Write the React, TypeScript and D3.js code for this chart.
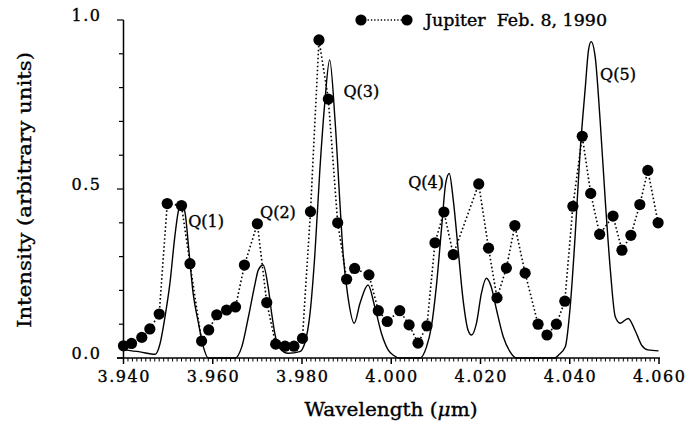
import React from 'react'
import * as d3 from 'd3'

// observed Jupiter spectrum (dots joined by dotted line)
const obsWave = [
  3.94, 3.9418, 3.9441, 3.9459, 3.948, 3.9498, 3.953, 3.9549, 3.9575, 3.9591,
  3.9609, 3.9631, 3.9651, 3.9671, 3.97, 3.9721, 3.9741, 3.9762, 3.9782, 3.9801,
  3.9819, 3.9838, 3.9859, 3.988, 3.99, 3.9918, 3.995, 3.9971, 3.9991, 4.0019,
  4.004, 4.006, 4.008, 4.0098, 4.0118, 4.0139, 4.0196, 4.0218, 4.0237, 4.0258,
  4.0277, 4.03, 4.0329, 4.0349, 4.037, 4.0389, 4.0407, 4.0428, 4.0447, 4.0467,
  4.0497, 4.0517, 4.0537, 4.0557, 4.0575, 4.0598,
]
const obsIntensity = [
  0.036, 0.043, 0.061, 0.086, 0.13, 0.457, 0.451, 0.279, 0.05, 0.083,
  0.128, 0.142, 0.151, 0.275, 0.397, 0.164, 0.041, 0.035, 0.035, 0.058,
  0.433, 0.941, 0.766, 0.4, 0.233, 0.265, 0.246, 0.14, 0.108, 0.14,
  0.098, 0.044, 0.095, 0.341, 0.432, 0.306, 0.515, 0.325, 0.178, 0.266,
  0.392, 0.251, 0.1, 0.068, 0.1, 0.168, 0.449, 0.656, 0.487, 0.366,
  0.42, 0.319, 0.363, 0.454, 0.555, 0.4,
]

// model spectrum (solid line)
const modelWave = [
  3.94, 3.9437, 3.9471, 3.9482, 3.9493, 3.9504, 3.9515, 3.9522, 3.953, 3.9538,
  3.9547, 3.9556, 3.9568, 3.9579, 3.959, 3.965, 3.9665, 3.968, 3.9695, 3.9702,
  3.9713, 3.9724, 3.9732, 3.9739, 3.975, 3.9769, 3.9795, 3.9806, 3.9818, 3.9829,
  3.984, 3.9851, 3.9862, 3.9874, 3.9885, 3.9892, 3.9903, 3.9917, 3.993, 3.9948,
  3.9963, 3.9978, 3.9993, 4.0004, 4.0019, 4.0064, 4.0079, 4.009, 4.0101, 4.0113,
  4.0122, 4.013, 4.0139, 4.015, 4.0161, 4.0172, 4.018, 4.0191, 4.0202, 4.0213,
  4.0224, 4.0236, 4.0251, 4.0266, 4.0281, 4.0367, 4.0375, 4.039, 4.0401, 4.0412,
  4.0423, 4.0435, 4.0442, 4.0448, 4.0457, 4.0468, 4.048, 4.0491, 4.0502, 4.0513,
  4.0531, 4.0546, 4.0561, 4.0575, 4.0599,
]
const modelIntensity = [
  0.024, 0.018, 0.011, 0.043, 0.122, 0.221, 0.359, 0.428, 0.458, 0.429,
  0.311, 0.192, 0.103, 0.033, 0.0, 0.0, 0.033, 0.122, 0.221, 0.26,
  0.275, 0.211, 0.132, 0.073, 0.029, 0.014, 0.019, 0.043, 0.132, 0.31,
  0.556, 0.754, 0.882, 0.704, 0.458, 0.31, 0.181, 0.103, 0.162, 0.216,
  0.152, 0.073, 0.024, 0.009, 0.0, 0.0, 0.033, 0.093, 0.211, 0.388,
  0.517, 0.546, 0.467, 0.32, 0.172, 0.083, 0.068, 0.103, 0.191, 0.236,
  0.211, 0.142, 0.063, 0.019, 0.0, 0.0, 0.009, 0.033, 0.152, 0.359,
  0.606, 0.803, 0.911, 0.936, 0.891, 0.704, 0.458, 0.26, 0.122, 0.103,
  0.117, 0.083, 0.038, 0.024, 0.021,
]

// line labels
const lineNames = ['Q(1)', 'Q(2)', 'Q(3)', 'Q(4)', 'Q(5)']
const lineWave = [3.9545, 3.9706, 3.9893, 4.0038, 4.0468]
const lineLevel = [0.388, 0.415, 0.772, 0.503, 0.822]

const xTicks = [3.94, 3.96, 3.98, 4.0, 4.02, 4.04, 4.06]
const yTicks = [0.0, 0.5, 1.0]
const legendLabel = 'Jupiter  Feb. 8, 1990'

const W = 697
const H = 425
const font = '"DejaVu Serif", serif'

export default function App() {
  const x = d3.scaleLinear().domain([3.94, 4.06]).range([123.5, 659])
  const y = d3.scaleLinear().domain([0, 1]).range([358, 20])

  const obs = obsWave.map((w, i) => [w, obsIntensity[i]] as [number, number])
  const model = modelWave.map((w, i) => [w, modelIntensity[i]] as [number, number])

  const obsLine = d3
    .line<[number, number]>()
    .x((d) => x(d[0]))
    .y((d) => y(d[1]))
  const modelLine = d3
    .line<[number, number]>()
    .x((d) => x(d[0]))
    .y((d) => y(d[1]))
    .curve(d3.curveMonotoneX)

  const xMinor = d3.range(0, 121).map((i) => 3.94 + i * 0.001)
  const yMinor = d3.range(0, 11).map((i) => i * 0.1)

  // slightly heavier text, like the scanned original
  const heavy = { stroke: '#000', strokeWidth: 0.35 }

  return (
    <div style={{ position: 'absolute', left: 0, top: 0 }}>
      <svg width={W} height={H} style={{ display: 'block', background: '#fff' }}>
        {/* axes */}
        <g stroke="#000" strokeWidth={1.5} fill="none">
          <line x1={117} x2={x(4.06) + 1} y1={y(0)} y2={y(0)} />
          <line x1={x(3.94)} x2={x(3.94)} y1={y(1)} y2={y(0)} />
          {xMinor.map((t, i) => (
            <line
              key={'xm' + i}
              x1={x(t)}
              x2={x(t)}
              y1={y(0)}
              y2={y(0) + (i % 20 === 0 ? 6 : 3.5)}
              strokeWidth={i % 20 === 0 ? 1.5 : 1}
            />
          ))}
          {yMinor.map((t, i) => (
            <line
              key={'ym' + i}
              x1={x(3.94) - (i % 5 === 0 ? 6.5 : 4.5)}
              x2={x(3.94)}
              y1={y(t)}
              y2={y(t)}
              strokeWidth={1.2}
            />
          ))}
        </g>
        <g fontFamily={font} fontSize={16} fill="#000" {...heavy}>
          {xTicks.map((t) => (
            <text key={'xt' + t} x={x(t) + 0.75} y={382} textAnchor="middle" letterSpacing={1.5}>
              {t.toFixed(3)}
            </text>
          ))}
          {yTicks.map((t) => (
            <text key={'yt' + t} x={101.5} y={y(t) + 0.5} textAnchor="end" letterSpacing={1.5}>
              {t.toFixed(1)}
            </text>
          ))}
        </g>
        <text
          x={391}
          y={416}
          textAnchor="middle"
          fontFamily={font}
          fontSize={19}
          textLength={173}
          lengthAdjust="spacingAndGlyphs"
          {...heavy}
        >
          Wavelength (<tspan fontStyle="italic">μ</tspan>m)
        </text>
        <text
          transform="translate(31,190) rotate(-90)"
          textAnchor="middle"
          fontFamily={font}
          fontSize={19}
          textLength={276}
          lengthAdjust="spacingAndGlyphs"
          {...heavy}
        >
          Intensity (arbitrary units)
        </text>

        {/* model */}
        <path d={modelLine(model) || ''} fill="none" stroke="#000" strokeWidth={1.4} />

        {/* observed */}
        <path
          d={obsLine(obs) || ''}
          fill="none"
          stroke="#000"
          strokeWidth={1.6}
          strokeDasharray="1.6 2.4"
        />
        {obs.map((d, i) => (
          <circle key={'p' + i} cx={x(d[0])} cy={y(d[1])} r={5.6} fill="#000" />
        ))}

        {/* line labels */}
        <g fontFamily={font} fontSize={16} fill="#000" {...heavy}>
          {lineNames.map((n, i) => (
            <text key={n} x={x(lineWave[i])} y={y(lineLevel[i])}>
              {n}
            </text>
          ))}
        </g>

        {/* legend */}
        <g>
          <line x1={361} x2={407} y1={20} y2={20} stroke="#000" strokeWidth={1.3} strokeDasharray="1.3 2" />
          <circle cx={361} cy={20} r={5.6} fill="#000" />
          <circle cx={407} cy={20} r={5.6} fill="#000" />
          <text
            x={425}
            y={25.5}
            fontFamily={font}
            fontSize={16}
            textLength={182}
            lengthAdjust="spacingAndGlyphs"
            style={{ whiteSpace: 'pre' }}
            {...heavy}
          >
            {legendLabel}
          </text>
        </g>
      </svg>
    </div>
  )
}
